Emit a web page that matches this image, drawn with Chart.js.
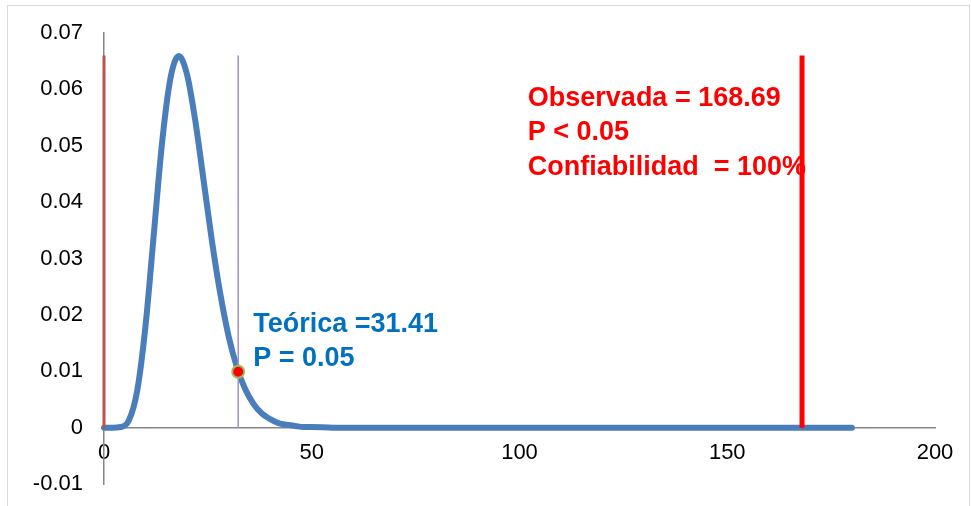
<!DOCTYPE html>
<html>
<head>
<meta charset="utf-8">
<script src="https://cdn.jsdelivr.net/npm/chart.js@4.4.0/dist/chart.umd.min.js"></script>
<style>
  html, body { margin: 0; padding: 0; background: #fff; }
  #wrap { position: absolute; left: 0; top: 0; width: 971px; height: 506px; }
  #frame { position: absolute; left: 7px; top: 5px; width: 961px; height: 505px;
           border: 1px solid #d9d9d9; pointer-events: none; }
</style>
</head>
<body>
<div id="wrap"><canvas id="chart" width="971" height="506"></canvas></div>
<div id="frame"></div>
<script>
'use strict';

// chi-square density curve
const curveX = [0, 2, 4, 6, 8, 10, 12, 14, 16, 18, 20, 22, 24, 26, 28, 30, 32, 34, 36, 38, 40, 42, 44, 46, 48, 50, 55, 60, 80, 100, 120, 140, 160, 180];
const curveY = [0, 0, 0.0001, 0.0013, 0.0066, 0.0181, 0.0344, 0.0507, 0.0620, 0.0659, 0.0626, 0.0543, 0.0437, 0.0330, 0.0237, 0.0162, 0.0107, 0.0068, 0.0042, 0.0025, 0.0015, 0.0008, 0.0005, 0.0003, 0.0001, 0.0001, 0, 0, 0, 0, 0, 0, 0, 0];

// reference lines (x position, top value)
const originX = 0;
const theoreticalX = 32.3;
const observedX = 168.0;
const lineTop = 0.066;
const theoreticalY = 0.0099;

const xTicks = [0, 50, 100, 150, 200];
const yTicks = [-0.01, 0, 0.01, 0.02, 0.03, 0.04, 0.05, 0.06, 0.07];

const textLabels = [
    { lines: ['Teórica =31.41', 'P = 0.05'], x: 35.9, y: 0.0183, color: '#0070c0' },
    { lines: ['Observada = 168.69', 'P < 0.05', 'Confiabilidad  = 100%'], x: 102.0, y: 0.0584, color: '#ff0000' }
];

const textPlugin = {
    id: 'textLabels',
    afterDatasetsDraw (chart) {
        const ctx = chart.ctx;
        const xs = chart.scales.x;
        const ys = chart.scales.y;
        ctx.save();
        ctx.font = 'bold 27px "Liberation Sans", Arial, sans-serif';
        ctx.textBaseline = 'middle';
        ctx.textAlign = 'left';
        textLabels.forEach(lbl => {
            ctx.fillStyle = lbl.color;
            const px = xs.getPixelForValue(lbl.x);
            const py = ys.getPixelForValue(lbl.y);
            lbl.lines.forEach((t, i) => ctx.fillText(t, px, py + i * 34.5));
        });
        ctx.restore();
    }
};

const pts = (xs, ys) => xs.map((x, i) => ({ x: x, y: ys[i] }));
const tickFont = { family: '"Liberation Sans", Arial, sans-serif', size: 22 };

new Chart(document.getElementById('chart'), {
    type: 'scatter',
    data: {
        datasets: [
            {
                data: [{ x: theoreticalX, y: theoreticalY }],
                backgroundColor: '#ff0000',
                borderColor: '#9bbb59',
                borderWidth: 2,
                pointRadius: 6,
                showLine: false,
                clip: false,
                order: 0
            },
            {
                data: pts(curveX, curveY),
                borderColor: '#4a7ebb',
                borderWidth: 6,
                pointRadius: 0,
                showLine: true,
                cubicInterpolationMode: 'monotone',
                borderCapStyle: 'round',
                clip: false,
                order: 2
            },
            {
                data: pts([originX, originX], [0, lineTop]),
                borderColor: '#c0504d',
                borderWidth: 3,
                pointRadius: 0,
                showLine: true,
                clip: false,
                order: 1
            },
            {
                data: pts([theoreticalX, theoreticalX], [0, lineTop]),
                borderColor: '#a28fc7',
                borderWidth: 1.5,
                pointRadius: 0,
                showLine: true,
                order: 1
            },
            {
                data: pts([observedX, observedX], [0, lineTop]),
                borderColor: '#ff0000',
                borderWidth: 5,
                pointRadius: 0,
                showLine: true,
                order: 1
            }
        ]
    },
    options: {
        responsive: false,
        animation: false,
        layout: { padding: { left: 0, right: 36, top: 33, bottom: 22 } },
        plugins: { legend: { display: false }, tooltip: { enabled: false } },
        scales: {
            x: {
                type: 'linear',
                position: { y: 0 },
                min: 0,
                max: 200,
                grid: { display: false, drawTicks: false },
                border: { display: true, color: '#868686', width: 1.5 },
                afterFit: s => { s.height = 0; s.paddingLeft = 0; s.paddingRight = 0; },
                afterBuildTicks: s => { s.ticks = xTicks.map(v => ({ value: v })); },
                ticks: {
                    padding: 12,
                    color: '#000',
                    font: tickFont,
                    callback: v => String(v)
                }
            },
            y: {
                min: -0.01,
                max: 0.07,
                grid: { display: false, drawTicks: false },
                border: { display: true, color: '#868686', width: 1.5 },
                afterFit: s => { s.width = 104; s.paddingTop = 0; s.paddingBottom = 0; },
                afterBuildTicks: s => { s.ticks = yTicks.map(v => ({ value: v })); },
                ticks: {
                    padding: 21,
                    color: '#000',
                    font: tickFont,
                    callback: v => Math.abs(v) < 1e-9 ? '0' : v.toFixed(2)
                }
            }
        }
    },
    plugins: [textPlugin]
});
</script>
</body>
</html>
